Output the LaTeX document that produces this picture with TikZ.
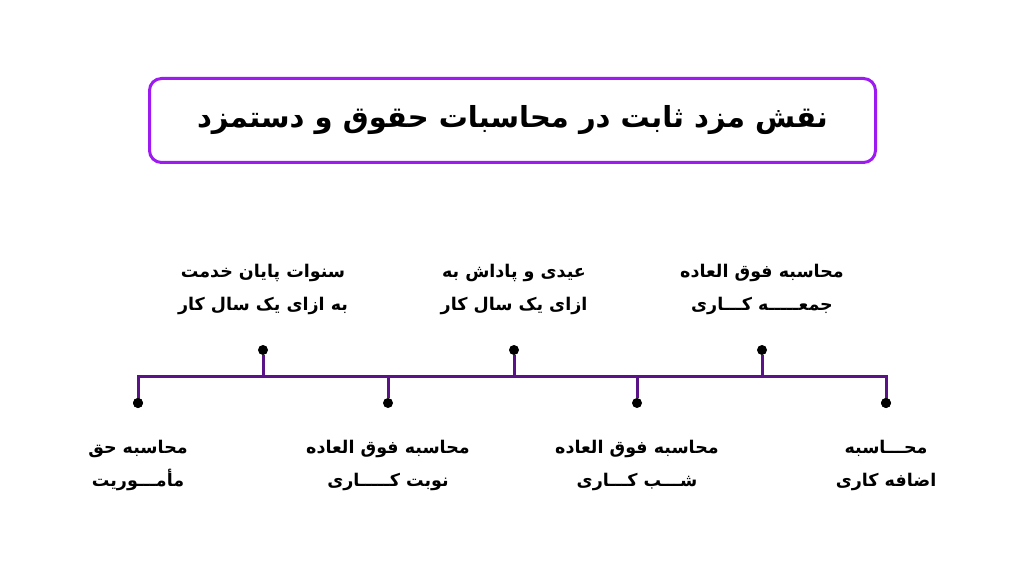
\documentclass[tikz,border=0pt]{standalone}
\usepackage{fontspec}
\newfontfamily\fafont[Script=Arabic]{DejaVu Sans}
\TeXXeTstate=1
\usetikzlibrary{positioning}
\definecolor{titleviolet}{HTML}{9D1AF0}
\definecolor{lineviolet}{HTML}{5A1386}
\tikzset{
  titlebox/.style = { draw=titleviolet, line width=3pt, rounded corners=12pt,
                      minimum width=726pt, minimum height=84pt,
                      font=\fafont\bfseries\fontsize{29}{32}\selectfont },
  bullet/.style   = { circle, fill=black, inner sep=0pt, minimum size=10pt },
  itemtext/.style = { align=center, inner sep=0pt,
                      font=\fafont\bfseries\fontsize{17.5}{33}\selectfont },
  axis/.style     = { draw=lineviolet, line width=3pt },
}

\begin{document}
\begin{tikzpicture}[x=1pt, y=-1pt]
  \useasboundingbox (0,0) rectangle (1025,577);

  \node (title) [titlebox] at (512.5,120.5)
    {\beginR نقش مزد ثابت در محاسبات حقوق و دستمزد\endR};

  % points above the line
  \node (severance) [bullet] at (263,350) {};
  \node (bonus)     [bullet] at (514,350) {};
  \node (friday)    [bullet] at (762,350) {};
  % points below the line
  \node (mission)   [bullet] at (138,403) {};
  \node (shift)     [bullet] at (388,403) {};
  \node (night)     [bullet] at (637,403) {};
  \node (overtime)  [bullet] at (886,403) {};

  \coordinate (left)  at (138,376);
  \coordinate (right) at (886,376);

  \node (severance text) [itemtext] at (263,289)
    {\beginR سنوات پایان خدمت\endR\\\beginR به ازای یک سال کار\endR};
  \node (bonus text)     [itemtext] at (514,289)
    {\beginR عیدی و پاداش به\endR\\\beginR ازای یک سال کار\endR};
  \node (friday text)    [itemtext] at (762,289)
    {\beginR محاسبه فوق العاده\endR\\\beginR جمعـــــه کـــاری\endR};
  \node (mission text)   [itemtext] at (138,465)
    {\beginR محاسبه حق\endR\\\beginR مأمـــوریت\endR};
  \node (shift text)     [itemtext] at (388,465)
    {\beginR محاسبه فوق العاده\endR\\\beginR نوبت کـــــاری\endR};
  \node (night text)     [itemtext] at (637,465)
    {\beginR محاسبه فوق العاده\endR\\\beginR شـــب کـــاری\endR};
  \node (overtime text)  [itemtext] at (886,465)
    {\beginR محـــاسبه\endR\\\beginR اضافه کاری\endR};

  \draw [axis] (mission.center) -- (left) -- (right) -- (overtime.center);
  \draw [axis] (severance) -- (severance |- left);
  \draw [axis] (bonus)     -- (bonus |- left);
  \draw [axis] (friday)    -- (friday |- left);
  \draw [axis] (shift)     -- (shift |- left);
  \draw [axis] (night)     -- (night |- left);
  \node [bullet] at (mission) {};
  \node [bullet] at (overtime) {};
\end{tikzpicture}
\end{document}
